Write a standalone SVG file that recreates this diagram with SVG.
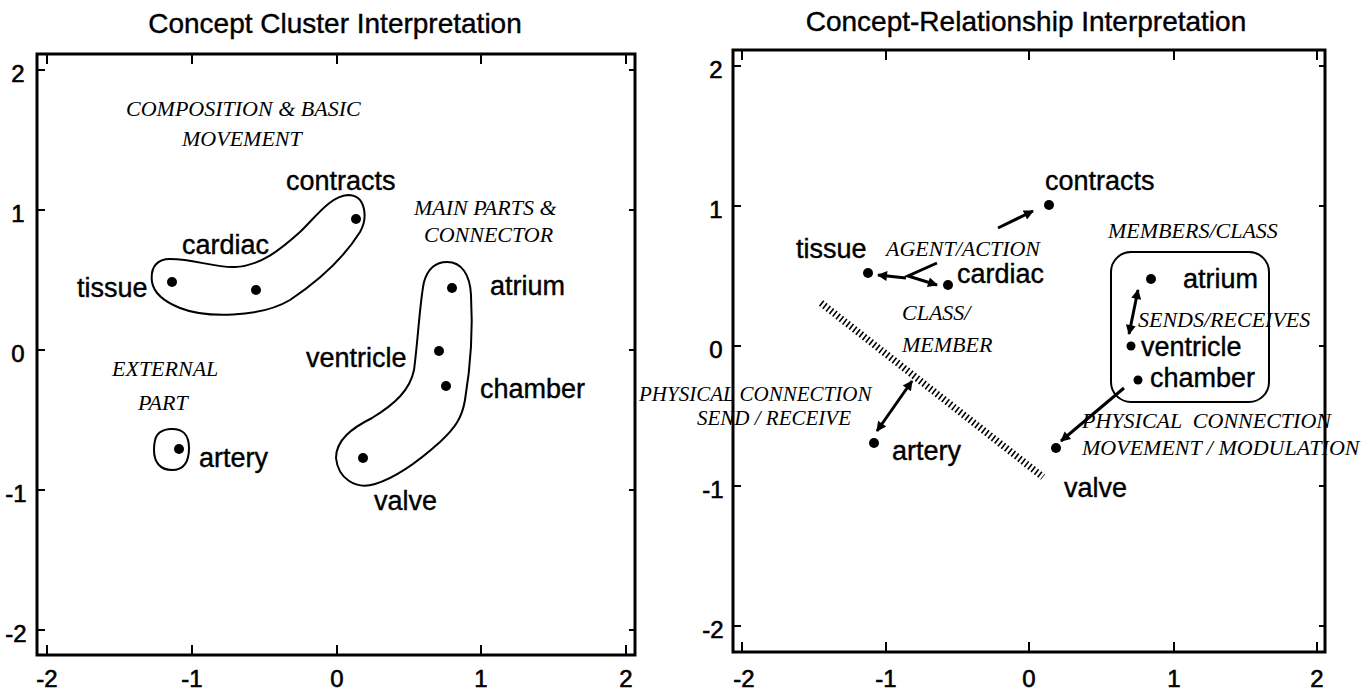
<svg xmlns="http://www.w3.org/2000/svg" width="1369" height="690" viewBox="0 0 1369 690">
<defs>
<style>
.bg{fill:#fff}
.frame{fill:none;stroke:#000;stroke-width:3}
.tick{stroke:#000;stroke-width:2}
.ttl{font-family:"Liberation Sans",Arial,sans-serif;font-size:28px;fill:#000;stroke:#000;stroke-width:0.4;text-anchor:middle}
.ax{font-family:"Liberation Sans",Arial,sans-serif;font-size:24px;fill:#000;stroke:#000;stroke-width:0.6;text-anchor:middle}
.lb{font-family:"Liberation Sans",Arial,sans-serif;font-size:27px;fill:#000;stroke:#000;stroke-width:0.4}
.it{font-family:"Liberation Serif","Times New Roman",serif;font-style:italic;font-size:22px;fill:#000}
.dot{fill:#000}
.cl{fill:none;stroke:#000;stroke-width:2}
.ar{fill:none;stroke:#000;stroke-width:3}
.hatch{fill:none;stroke:#000;stroke-width:7;stroke-dasharray:1.6 2.6}
</style>
<marker id="ah" viewBox="0 0 10 10" refX="9" refY="5" markerWidth="13" markerHeight="10" markerUnits="userSpaceOnUse" orient="auto-start-reverse"><path d="M0,0 L10,5 L0,10 Z" fill="#000"/></marker>
</defs>
<rect class="bg" x="0" y="0" width="1369" height="690"/>

<!-- LEFT PLOT -->
<g id="left-axes">
<text class="ttl" x="335" y="33">Concept Cluster Interpretation</text>
<rect class="frame" x="37" y="54" width="598" height="601"/>
<path class="tick" d="M47,54v10M192,54v10M337,54v10M481,54v10M626,54v10M47,655v-10M192,655v-10M337,655v-10M481,655v-10M626,655v-10M37,70h8M37,210h8M37,350h8M37,490h8M37,630h8M635,70h-6M635,210h-6M635,350h-6M635,490h-6M635,630h-6"/>
<text class="ax" x="18" y="82">2</text>
<text class="ax" x="18" y="222">1</text>
<text class="ax" x="18" y="362">0</text>
<text class="ax" x="16" y="502">-1</text>
<text class="ax" x="16" y="642">-2</text>
<text class="ax" x="47" y="687">-2</text>
<text class="ax" x="192" y="687">-1</text>
<text class="ax" x="337" y="687">0</text>
<text class="ax" x="481" y="687">1</text>
<text class="ax" x="626" y="687">2</text>
</g>
<g id="left-clusters">
<path class="cl" d="M152,282 C150,266 158,259 170,259 C195,259 215,268 235,267 C260,266 280,250 300,232 C315,218 330,196 348,195 C366,195 368,218 360,232 C345,256 320,280 290,300 C260,318 205,318 180,308 C165,302 154,294 152,282 Z"/>
<path class="cl" d="M447,262 C462,262 470,275 471,295 C473,330 470,370 465,400 C462,418 455,428 440,442 C420,460 395,478 375,484 C355,490 338,478 336,458 C336,440 352,428 372,418 C395,404 410,390 414,370 C418,340 420,300 424,282 C428,268 436,262 447,262 Z"/>
<path class="cl" d="M170,429 C182,428 189,434 189,448 C189,462 184,470 172,470 C160,470 154,462 154,450 C154,436 158,430 170,429 Z"/>
<text class="it" x="126" y="116">COMPOSITION &amp; BASIC</text>
<text class="it" x="182" y="146">MOVEMENT</text>
<text class="it" x="414" y="215">MAIN PARTS &amp;</text>
<text class="it" x="424" y="242">CONNECTOR</text>
<text class="it" x="112" y="376">EXTERNAL</text>
<text class="it" x="138" y="410">PART</text>
</g>
<g id="L-tissue"><circle class="dot" cx="172" cy="282" r="5"/><text class="lb" x="77" y="297">tissue</text></g>
<g id="L-cardiac"><circle class="dot" cx="256" cy="290" r="5"/><text class="lb" x="182" y="254">cardiac</text></g>
<g id="L-contracts"><circle class="dot" cx="356" cy="219" r="5"/><text class="lb" x="286" y="190">contracts</text></g>
<g id="L-atrium"><circle class="dot" cx="452" cy="288" r="5"/><text class="lb" x="490" y="295">atrium</text></g>
<g id="L-ventricle"><circle class="dot" cx="439" cy="351" r="5"/><text class="lb" x="306" y="367">ventricle</text></g>
<g id="L-chamber"><circle class="dot" cx="446" cy="386" r="5"/><text class="lb" x="480" y="398">chamber</text></g>
<g id="L-valve"><circle class="dot" cx="363" cy="458" r="5"/><text class="lb" x="374" y="510">valve</text></g>
<g id="L-artery"><circle class="dot" cx="179" cy="449" r="5"/><text class="lb" x="199" y="467">artery</text></g>

<!-- RIGHT PLOT -->
<g id="right-axes">
<text class="ttl" x="1026" y="31">Concept-Relationship Interpretation</text>
<rect class="frame" x="733" y="50" width="592" height="602"/>
<path class="tick" d="M742,50v10M886,50v10M1029,50v10M1174,50v10M1317,50v10M742,652v-10M886,652v-10M1029,652v-10M1174,652v-10M1317,652v-10M733,66h8M733,206h8M733,346h8M733,486h8M733,626h8M1325,66h-6M1325,206h-6M1325,346h-6M1325,486h-6M1325,626h-6"/>
<text class="ax" x="716" y="78">2</text>
<text class="ax" x="716" y="218">1</text>
<text class="ax" x="716" y="358">0</text>
<text class="ax" x="713" y="498">-1</text>
<text class="ax" x="713" y="638">-2</text>
<text class="ax" x="744" y="687">-2</text>
<text class="ax" x="886" y="687">-1</text>
<text class="ax" x="1029" y="687">0</text>
<text class="ax" x="1174" y="687">1</text>
<text class="ax" x="1317" y="687">2</text>
</g>
<g id="R-class-box">
<rect class="cl" x="1111" y="252" width="158" height="150" rx="20" ry="20"/>
<text class="it" x="1108" y="238">MEMBERS/CLASS</text>
</g>
<g id="R-tissue"><circle class="dot" cx="868" cy="273" r="5"/><text class="lb" x="796" y="258">tissue</text></g>
<g id="R-cardiac"><circle class="dot" cx="948" cy="285" r="5"/><text class="lb" x="957" y="283">cardiac</text></g>
<g id="R-contracts"><circle class="dot" cx="1049" cy="205" r="5"/><text class="lb" x="1045" y="190">contracts</text></g>
<g id="R-atrium"><circle class="dot" cx="1151" cy="279" r="5"/><text class="lb" x="1183" y="288">atrium</text></g>
<g id="R-ventricle"><circle class="dot" cx="1131" cy="346" r="4.5"/><text class="lb" x="1141" y="356">ventricle</text></g>
<g id="R-chamber"><circle class="dot" cx="1138" cy="380" r="4.5"/><text class="lb" x="1150" y="387">chamber</text></g>
<g id="R-artery"><circle class="dot" cx="874" cy="443" r="5"/><text class="lb" x="892" y="460">artery</text></g>
<g id="R-valve"><circle class="dot" cx="1056" cy="448" r="5"/><text class="lb" x="1064" y="497">valve</text></g>
<g id="R-relation-labels">
<text class="it" x="886" y="256">AGENT/ACTION</text>
<text class="it" x="902" y="320">CLASS/</text>
<text class="it" x="902" y="352">MEMBER</text>
<text class="it" x="1138" y="327">SENDS/RECEIVES</text>
<text class="it" x="639" y="401" style="font-size:21px">PHYSICAL CONNECTION</text>
<text class="it" x="697" y="425" style="font-size:21px">SEND / RECEIVE</text>
<text class="it" x="1082" y="428" xml:space="preserve">PHYSICAL  CONNECTION</text>
<text class="it" x="1082" y="455">MOVEMENT / MODULATION</text>
</g>
<g id="connectors">
<line class="ar" x1="998" y1="228" x2="1033" y2="211" marker-end="url(#ah)"/>
<line class="ar" x1="906" y1="278" x2="878" y2="275" marker-end="url(#ah)"/>
<polyline class="ar" points="937,263 908,276 937,285" marker-end="url(#ah)"/>
<line class="ar" x1="1129" y1="334" x2="1138" y2="290" marker-start="url(#ah)" marker-end="url(#ah)"/>
<line class="ar" x1="877" y1="431" x2="912" y2="381" marker-start="url(#ah)" marker-end="url(#ah)"/>
<line class="ar" x1="1124" y1="388" x2="1061" y2="441" marker-end="url(#ah)"/>
<line class="hatch" x1="821" y1="303" x2="1043" y2="477"/>
</g>
</svg>
